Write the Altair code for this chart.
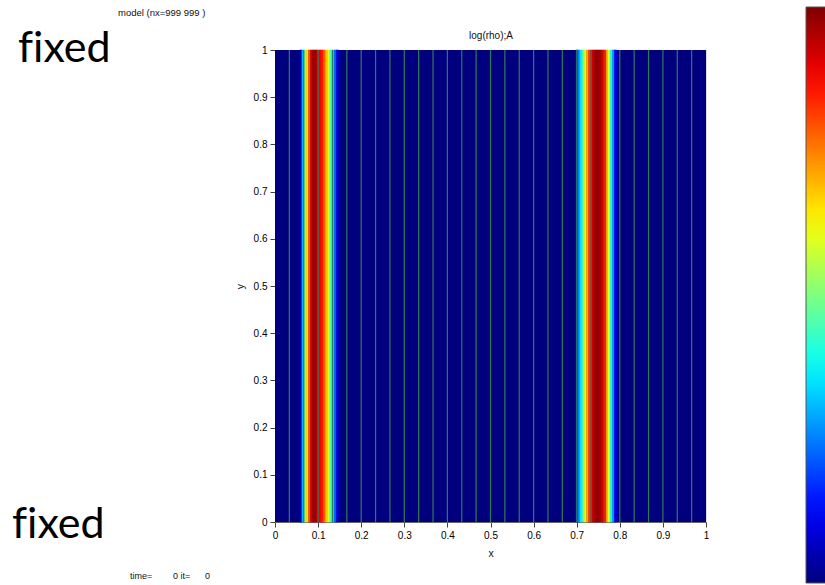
import altair as alt
import pandas as pd

# Density profile across x (value normalised 0..1); y-invariant bands
cell = 0.005
left_band_x = [0.060, 0.065, 0.070, 0.075, 0.080, 0.085, 0.090, 0.095, 0.100,
               0.105, 0.110, 0.115, 0.120, 0.125, 0.130, 0.135, 0.140, 0.145]
left_band_val = [0.05, 0.30, 0.50, 0.65, 0.80, 0.92, 0.97, 0.97, 0.92,
                 0.88, 0.85, 0.78, 0.68, 0.60, 0.45, 0.35, 0.22, 0.08]
right_band_x = [0.700, 0.705, 0.710, 0.715, 0.720, 0.725, 0.730, 0.735, 0.740,
                0.745, 0.750, 0.755, 0.760, 0.765, 0.770, 0.775, 0.780, 0.785, 0.790]
right_band_val = [0.10, 0.25, 0.35, 0.45, 0.60, 0.72, 0.82, 0.88, 0.95,
                  0.98, 0.98, 0.96, 0.92, 0.85, 0.72, 0.60, 0.42, 0.28, 0.10]

# computational mesh lines (30 cells)
mesh_x = [round(k / 30, 5) for k in range(1, 30)]

jet = ["#00007f", "#0000ff", "#007fff", "#00ffff", "#7fff7f",
       "#ffff00", "#ff7f00", "#ff0000", "#7f0000"]
jet_domain = [i / 8 for i in range(9)]

bg = pd.DataFrame({"x0": [0.0], "x1": [1.0], "v": [0.0]})
bx = left_band_x + right_band_x
bv = left_band_val + right_band_val
bands = pd.DataFrame({"x0": [x - cell / 2 for x in bx],
                      "x1": [x + cell / 2 for x in bx],
                      "v": bv})
mesh = pd.DataFrame({"x": mesh_x})

tick_test = "abs(datum.value*10 - round(datum.value*10)) < 0.001"
axis_common = dict(
    values=[round(i * 0.05, 2) for i in range(21)],
    labelExpr=f"{tick_test} ? format(datum.value, '~g') : ''",
    tickSize={"condition": {"test": tick_test, "value": 5}, "value": 2.5},
    labelFont="Liberation Sans", labelFontSize=10, labelColor="#000",
    titleFont="Liberation Sans", titleFontSize=10.5, titleFontWeight="normal",
    titleColor="#111", tickColor="#444", domainColor="#666",
    labelOverlap=False, labelFlush=False, grid=False,
)

xs = alt.Scale(domain=[0, 1], nice=False, zero=False)
ys = alt.Scale(domain=[0, 1], nice=False, zero=False)
cs = alt.Scale(domain=jet_domain, range=jet, interpolate="rgb")

legend = alt.Legend(
    orient="none", legendX=531, legendY=-43, direction="vertical",
    gradientLength=576, gradientThickness=26, labelExpr="''", labelOpacity=0,
    title=None, gradientStrokeColor="#555", gradientStrokeWidth=1,
)

base_bg = alt.Chart(bg).mark_rect().encode(
    x=alt.X("x0:Q", scale=xs,
            axis=alt.Axis(title="x", labelPadding=3, titlePadding=8, **axis_common)),
    x2="x1:Q",
    y=alt.Y("v0:Q", scale=ys,
            axis=alt.Axis(title="y", labelPadding=3, titlePadding=8, **axis_common)),
    y2="v1:Q",
    color=alt.Color("v:Q", scale=cs, legend=legend),
).transform_calculate(v0="0", v1="1")

band_rects = alt.Chart(bands).mark_rect(strokeWidth=0.6).encode(
    x=alt.X("x0:Q", scale=xs),
    x2="x1:Q",
    y=alt.Y("v0:Q", scale=ys),
    y2="v1:Q",
    color=alt.Color("v:Q", scale=cs, legend=legend),
    stroke=alt.Stroke("v:Q", scale=cs, legend=None),
).transform_calculate(v0="0", v1="1")

mesh_lines = alt.Chart(mesh).mark_rule(color="#2e7a58", strokeWidth=1.2).encode(
    x=alt.X("x:Q", scale=xs),
    y=alt.value(0),
    y2=alt.value(472),
)

one = pd.DataFrame({"t": [""]})


def label(text, px, py, size, font="Liberation Sans", color="#111", align="left"):
    return alt.Chart(one).mark_text(
        text=text, align=align, baseline="alphabetic", fontSize=size,
        font=font, color=color,
    ).encode(x=alt.value(px), y=alt.value(py))


# "f" + zero-width non-joiner keeps the f and i as separate glyphs
fixed = "f\u200cixed"

notes = [
    label(fixed, 18 - 275, 62 - 50, 43, font="Lato", color="#000"),
    label(fixed, 12 - 275, 538 - 50, 43, font="Lato", color="#000"),
    label("model (nx=999 999 )", 118 - 275, 16 - 50, 9.5),
    label("log(rho);A", 216, 39 - 50, 10, align="center"),
    label("time=", 130 - 275, 579 - 50, 9),
    label("0 it=", 173 - 275, 579 - 50, 9),
    label("0", 205 - 275, 579 - 50, 9),
]

chart = alt.layer(base_bg, band_rects, mesh_lines, *notes).properties(
    width=431,
    height=472,
    autosize=alt.AutoSizeParams(type="none"),
    padding={"left": 275, "top": 50, "right": 119, "bottom": 63},
).resolve_scale(stroke="independent").configure_view(stroke=None).configure(background="white")

chart.save("out.html", embed_options={"renderer": "svg", "actions": False})
